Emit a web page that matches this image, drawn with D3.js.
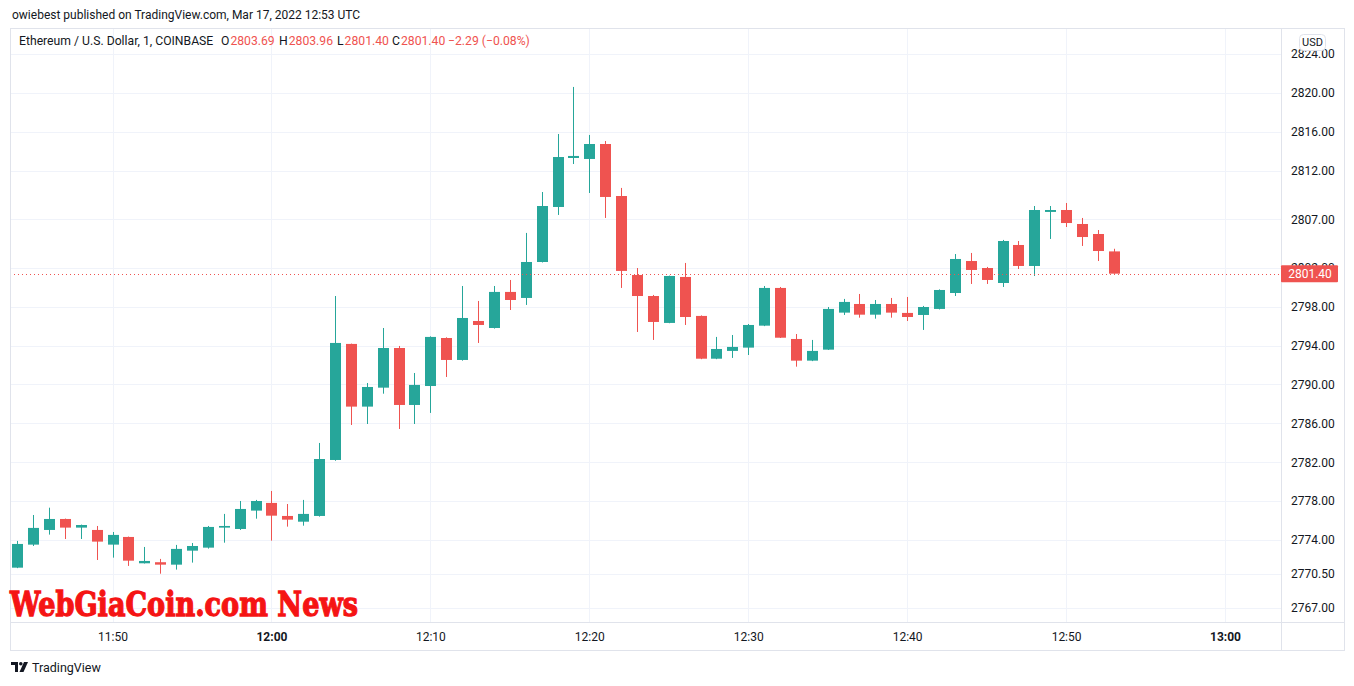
<!DOCTYPE html>
<html>
<head>
<meta charset="utf-8">
<script src="https://cdn.jsdelivr.net/npm/d3@7"></script>
<style>
  html, body { margin: 0; padding: 0; background: #ffffff; }
  svg { display: block; font-family: Roboto, "Liberation Sans", sans-serif; }
</style>
</head>
<body>
<svg id="chart" width="1354" height="686"></svg>
<script>
// ---------------- DATA ----------------
const startTime = "2022-03-17T11:44:00Z"; // first 1-minute candle
const opens  = [2771.15,2773.52,2775.03,2776.16,2775.27,2775.03,2773.52,2774.31,2771.60,2771.71,
                2771.46,2772.90,2773.21,2775.27,2775.13,2777.02,2777.81,2776.47,2775.88,2776.47,
                2782.23,2794.17,2787.72,2789.67,2793.75,2787.89,2789.84,2794.78,2792.52,2796.53,
                2795.81,2799.52,2798.90,2802.60,2808.26,2813.30,2813.20,2814.74,2809.39,2801.26,
                2799.10,2796.33,2801.06,2797.05,2792.65,2793.45,2793.79,2796.05,2799.93,2794.68,
                2792.45,2793.58,2797.39,2798.28,2797.18,2798.28,2797.36,2797.15,2797.77,2799.41,
                2802.70,2801.98,2800.44,2804.35,2802.19,2807.75,2807.95,2806.51,2805.48,2803.69];
const highs  = [2773.90,2776.57,2777.32,2776.20,2775.58,2775.44,2774.82,2774.35,2773.28,2772.05,
                2773.49,2773.69,2775.44,2776.68,2778.01,2778.12,2779.04,2777.70,2778.12,2783.98,
                2799.10,2794.20,2790.15,2795.81,2793.96,2791.18,2794.95,2794.85,2800.13,2798.59,
                2800.13,2800.75,2805.59,2809.80,2815.77,2820.61,2815.67,2815.05,2810.22,2801.98,
                2799.21,2801.20,2802.50,2797.10,2794.89,2795.09,2796.22,2800.13,2800.03,2795.19,
                2794.58,2797.97,2798.80,2799.31,2798.69,2798.90,2799.00,2798.08,2799.78,2803.42,
                2803.53,2802.09,2804.87,2804.76,2808.36,2808.36,2808.67,2807.13,2805.89,2803.96];
const lows   = [2771.10,2773.38,2774.55,2774.10,2774.10,2771.94,2772.18,2771.33,2771.58,2770.53,
                2770.95,2771.67,2773.11,2773.72,2775.03,2776.19,2773.93,2775.37,2775.47,2776.40,
                2782.15,2785.83,2785.93,2789.05,2785.42,2785.93,2787.07,2790.77,2792.45,2794.27,
                2795.75,2797.66,2798.18,2802.55,2807.44,2812.68,2809.70,2807.13,2799.93,2795.40,
                2794.58,2796.30,2796.12,2792.60,2792.60,2792.73,2793.03,2796.00,2794.78,2791.83,
                2792.40,2793.55,2797.15,2796.87,2796.77,2796.87,2796.53,2795.61,2797.72,2799.10,
                2800.34,2800.34,2800.03,2801.88,2801.16,2804.97,2806.20,2804.25,2802.70,2801.40];
const closes = [2773.59,2775.24,2776.16,2775.27,2775.54,2773.83,2774.52,2771.87,2771.84,2771.46,
                2773.08,2773.38,2775.34,2775.44,2777.19,2778.01,2776.50,2776.09,2776.68,2782.33,
                2794.27,2787.72,2789.74,2793.75,2787.89,2789.95,2794.89,2792.52,2796.84,2796.12,
                2799.52,2798.69,2802.60,2808.36,2813.40,2813.51,2814.74,2809.29,2801.68,2799.10,
                2796.43,2801.16,2796.94,2792.65,2793.65,2793.86,2796.12,2799.93,2794.81,2792.45,
                2793.45,2797.77,2798.49,2797.18,2798.28,2797.39,2796.94,2797.97,2799.72,2802.91,
                2801.78,2800.75,2804.76,2802.19,2807.95,2807.95,2806.61,2805.17,2803.73,2801.40];

const yTickValues = [2824, 2820, 2816, 2812, 2807, 2802, 2798, 2794, 2790, 2786, 2782, 2778, 2774, 2770.5, 2767];
const xTickLabels = ["11:50", "12:00", "12:10", "12:20", "12:30", "12:40", "12:50", "13:00"];
const boldXTicks  = ["12:00", "13:00"];
const lastPrice = 2801.40;
const headerTitle = "Ethereum / U.S. Dollar, 1, COINBASE";
const headerOHLC = [["O", "2803.69"], ["H", "2803.96"], ["L", "2801.40"], ["C", "2801.40"]];
const headerChange = "\u22122.29 (\u22120.08%)";
const publishedText = "owiebest published on TradingView.com, Mar 17, 2022 12:53 UTC";

// ---------------- LAYOUT ----------------
const UP = "#26a69a", DOWN = "#ef5350", TXT = "#131722", GRID = "#f0f3fa", BORDER = "#e0e3eb";
const plot = { left: 10, right: 1281, top: 28, bottom: 622 };
const outer = { left: 10, right: 1344, top: 28, bottom: 650 };

const svg = d3.select("#chart");
const parseUTC = d3.utcParse("%Y-%m-%dT%H:%M:%SZ");
const t0 = parseUTC(startTime);
const candles = opens.map((o, i) => ({
  t: d3.utcMinute.offset(t0, i), o, h: highs[i], l: lows[i], c: closes[i]
}));
const dayStr = "2022-03-17T";
const xTicks = xTickLabels.map(s => parseUTC(dayStr + s + ":00Z"));

const x = d3.scaleUtc()
  .domain([xTicks[0], xTicks[xTicks.length - 1]])
  .range([112.5, 1225]);
const y = d3.scaleLinear().domain([2767, 2824]).range([608, 54]);

// clip for plot
svg.append("defs").append("clipPath").attr("id", "plotClip")
  .append("rect").attr("x", plot.left).attr("y", plot.top)
  .attr("width", plot.right - plot.left).attr("height", plot.bottom - plot.top);

// grid
const grid = svg.append("g").attr("clip-path", "url(#plotClip)");
grid.selectAll("line.h").data(yTickValues).join("line")
  .attr("x1", plot.left).attr("x2", plot.right)
  .attr("y1", d => Math.round(y(d)) + 0.5).attr("y2", d => Math.round(y(d)) + 0.5)
  .attr("stroke", GRID).attr("stroke-width", 1);
grid.selectAll("line.v").data(xTicks).join("line")
  .attr("y1", plot.top).attr("y2", plot.bottom)
  .attr("x1", d => Math.round(x(d)) + 0.5).attr("x2", d => Math.round(x(d)) + 0.5)
  .attr("stroke", GRID).attr("stroke-width", 1);

// candles
const bodyW = 11;
const cg = svg.append("g").attr("clip-path", "url(#plotClip)");
const cand = cg.selectAll("g.c").data(candles).join("g");
cand.append("line")
  .attr("x1", d => Math.round(x(d.t)) + 0.5).attr("x2", d => Math.round(x(d.t)) + 0.5)
  .attr("y1", d => y(d.h)).attr("y2", d => y(d.l))
  .attr("stroke", d => d.c >= d.o ? UP : DOWN).attr("stroke-width", 1);
cand.append("rect")
  .attr("x", d => Math.round(x(d.t)) + 0.5 - bodyW / 2)
  .attr("width", bodyW)
  .attr("y", d => y(Math.max(d.o, d.c)))
  .attr("height", d => Math.max(1, Math.abs(y(d.o) - y(d.c))))
  .attr("fill", d => d.c >= d.o ? UP : DOWN);

// last price dotted line
svg.append("line")
  .attr("x1", plot.left).attr("x2", plot.right)
  .attr("y1", Math.round(y(lastPrice)) + 0.5).attr("y2", Math.round(y(lastPrice)) + 0.5)
  .attr("stroke", DOWN).attr("stroke-width", 1).attr("stroke-dasharray", "1,3");

// borders
svg.append("rect")
  .attr("x", outer.left + 0.5).attr("y", outer.top + 0.5)
  .attr("width", outer.right - outer.left).attr("height", outer.bottom - outer.top)
  .attr("fill", "none").attr("stroke", BORDER);
svg.append("line").attr("x1", plot.right + 0.5).attr("x2", plot.right + 0.5)
  .attr("y1", outer.top).attr("y2", outer.bottom + 1).attr("stroke", BORDER);
svg.append("line").attr("x1", outer.left).attr("x2", outer.right)
  .attr("y1", plot.bottom + 0.5).attr("y2", plot.bottom + 0.5).attr("stroke", BORDER);

// y axis labels (via d3 axis)
const yAxisG = svg.append("g").attr("transform", `translate(${plot.right},0)`)
  .call(d3.axisRight(y).tickValues(yTickValues).tickFormat(d3.format(".2f")).tickSize(0).tickPadding(10));
yAxisG.select(".domain").remove();
yAxisG.attr("font-family", null).attr("font-size", null);
yAxisG.selectAll("text").attr("fill", TXT).style("font-size", "12px")
  .style("font-family", "Roboto, 'Liberation Sans', sans-serif");

// x axis labels
const xAxisG = svg.append("g").attr("transform", `translate(0,${plot.bottom})`)
  .call(d3.axisBottom(x).tickValues(xTicks).tickFormat(d3.utcFormat("%H:%M")).tickSize(0).tickPadding(10));
xAxisG.select(".domain").remove();
xAxisG.attr("font-family", null).attr("font-size", null);
xAxisG.selectAll("text").attr("fill", TXT).style("font-size", "12px")
  .style("font-family", "Roboto, 'Liberation Sans', sans-serif")
  .style("font-weight", d => boldXTicks.includes(d3.utcFormat("%H:%M")(d)) ? 700 : 400);

// last price label (drawn over the hidden neighbouring tick label, as in the original)
const lpY = y(lastPrice);
svg.append("rect").attr("x", plot.right).attr("y", lpY - 8.5).attr("width", 57).attr("height", 17)
  .attr("rx", 1).attr("fill", DOWN);
svg.append("text").attr("x", plot.right + 29).attr("y", lpY).attr("dy", "0.35em")
  .attr("text-anchor", "middle").attr("fill", "#ffffff").style("font-size", "12px")
  .text(d3.format(".2f")(lastPrice));

// USD badge
svg.append("rect").attr("x", 1299.5).attr("y", 34.5).attr("width", 26).attr("height", 16)
  .attr("rx", 4).attr("fill", "#ffffff").attr("stroke", BORDER);
svg.append("text").attr("x", 1312.5).attr("y", 42.5).attr("dy", "0.35em")
  .attr("text-anchor", "middle").attr("fill", TXT).style("font-size", "11px").text("USD");

// published text
svg.append("text").attr("x", 12).attr("y", 19).attr("fill", TXT).style("font-size", "12px")
  .text(publishedText);

// header legend
const hy = 45;
svg.append("text").attr("x", 19).attr("y", hy).attr("fill", TXT).style("font-size", "12.2px").text(headerTitle);
const ohlcX = [221, 279, 337, 392];
headerOHLC.forEach((p, i) => {
  const t = svg.append("text").attr("x", ohlcX[i]).attr("y", hy).style("font-size", "12.2px");
  t.append("tspan").attr("fill", TXT).text(p[0]);
  t.append("tspan").attr("fill", DOWN).attr("dx", 1).text(p[1]);
});
svg.append("text").attr("x", 448).attr("y", hy).attr("fill", DOWN).style("font-size", "12.2px").text(headerChange);

// watermark
svg.append("text").attr("x", 10).attr("y", 616)
  .attr("fill", "#f51414").attr("stroke", "#f51414").attr("stroke-width", 1.3)
  .style("font-family", "'DejaVu Serif', serif").style("font-size", "34px").style("font-weight", 700)
  .attr("textLength", 348).attr("lengthAdjust", "spacingAndGlyphs")
  .text("WebGiaCoin.com News");

// TradingView logo
const logo = svg.append("g").attr("transform", "translate(11,662)").attr("fill", TXT);
logo.append("path").attr("d", "M0,0 H7 V10 H4 V3 H0 Z");
logo.append("circle").attr("cx", 9.8).attr("cy", 1.8).attr("r", 1.8);
logo.append("path").attr("d", "M13,0 H17 L12.5,10 H8.5 Z");
svg.append("text").attr("x", 32).attr("y", 672).attr("fill", TXT).style("font-size", "12.5px")
  .text("TradingView");
</script>
</body>
</html>
